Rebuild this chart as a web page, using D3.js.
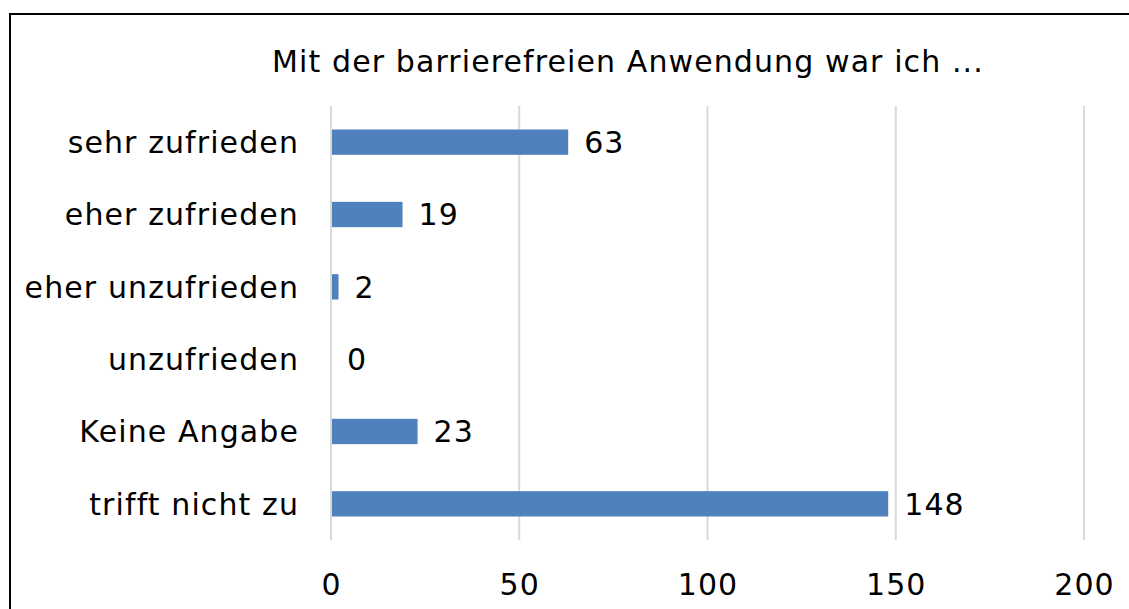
<!DOCTYPE html>
<html>
<head>
<meta charset="utf-8">
<script src="https://cdn.jsdelivr.net/npm/d3@7"></script>
<style>
  body { margin: 0; background: #fff; }
  text { font-family: Verdana, "DejaVu Sans", sans-serif; fill: #000; letter-spacing: 1.1px; }
</style>
</head>
<body>
<div id="chart"></div>
<script>
// Data
var categories = ["sehr zufrieden", "eher zufrieden", "eher unzufrieden", "unzufrieden", "Keine Angabe", "trifft nicht zu"];
var values = [63, 19, 2, 0, 23, 148];
var xTicks = [0, 50, 100, 150, 200];
var title = "Mit der barrierefreien Anwendung war ich ...";

var W = 1129, H = 609;
var margin = {top: 106, right: 45, bottom: 69, left: 331};
var width = W - margin.left - margin.right,
    height = H - margin.top - margin.bottom;

var svg = d3.select("#chart").append("svg")
  .attr("width", W)
  .attr("height", H);

// chart border (runs off the right and bottom edge)
svg.append("rect")
  .attr("x", 10).attr("y", 14)
  .attr("width", 1140).attr("height", 640)
  .attr("fill", "none")
  .attr("stroke", "#000")
  .attr("stroke-width", 2);

svg.append("text")
  .attr("x", 628).attr("y", 72)
  .attr("text-anchor", "middle")
  .style("font-size", "30px")
  .text(title);

var g = svg.append("g")
  .attr("transform", "translate(" + margin.left + "," + margin.top + ")");

var x = d3.scaleLinear().domain([0, 200]).range([0, width]);
var y = d3.scaleBand().domain(categories).range([0, height]).paddingInner(0.65).paddingOuter(0.325);

// gridlines
g.append("g")
  .selectAll("line")
  .data(xTicks)
  .enter().append("line")
    .attr("x1", function(d) { return x(d); })
    .attr("x2", function(d) { return x(d); })
    .attr("y1", 0)
    .attr("y2", height)
    .attr("stroke", "#d9d9d9")
    .attr("stroke-width", 2);

// x axis labels
var xAxis = g.append("g")
  .attr("transform", "translate(0," + height + ")")
  .call(d3.axisBottom(x).tickValues(xTicks).tickSize(0).tickPadding(0));
xAxis.select(".domain").remove();
xAxis.selectAll("text")
  .attr("dy", null)
  .attr("y", 55)
  .style("font-size", "30px")
  .style("font-family", "Verdana, 'DejaVu Sans', sans-serif");

// y axis labels
var yAxis = g.append("g")
  .call(d3.axisLeft(y).tickSize(0).tickPadding(32));
yAxis.select(".domain").remove();
yAxis.selectAll("text")
  .attr("dy", "0.36em")
  .style("font-size", "30px")
  .style("font-family", "Verdana, 'DejaVu Sans', sans-serif");

// bars
g.append("g")
  .selectAll("rect")
  .data(values)
  .enter().append("rect")
    .attr("x", x(0) + 1)
    .attr("y", function(d, i) { return y(categories[i]); })
    .attr("width", function(d) { return Math.max(0, x(d) - x(0) - 1); })
    .attr("height", y.bandwidth())
    .attr("fill", "#4f81bd");

// value labels
g.append("g")
  .selectAll("text")
  .data(values)
  .enter().append("text")
    .attr("x", function(d) { return x(d) + 16; })
    .attr("y", function(d, i) { return y(categories[i]) + y.bandwidth() / 2; })
    .attr("dy", "0.36em")
    .style("font-size", "30px")
    .text(function(d) { return d; });
</script>
</body>
</html>
